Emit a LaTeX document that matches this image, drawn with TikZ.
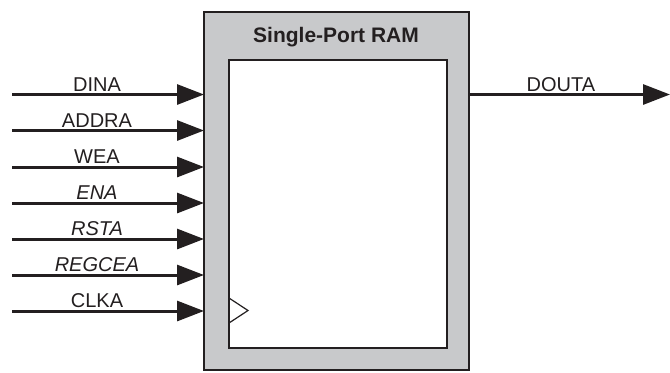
\documentclass[tikz,border=0pt]{standalone}
\usepackage{fontspec}
\setmainfont{Liberation Sans}
\usetikzlibrary{arrows.meta}
\definecolor{ink}{RGB}{35,31,32}
\definecolor{boxgray}{RGB}{200,201,203}
\tikzset{
  sig/.style={draw=ink, line width=1.5pt, -{Triangle[length=13.5pt,width=10pt]}},
  lbl/.style={anchor=base, inner sep=0pt, text=ink, font=\fontsize{10}{12}\selectfont},
  outerbox/.style={draw=ink, line width=1pt, fill=boxgray, inner sep=0pt},
  innerbox/.style={draw=ink, line width=1pt, fill=white, inner sep=0pt},
  clk/.style={draw=ink, line width=0.6pt}
}
\begin{document}
\begin{tikzpicture}[x=0.5pt,y=-0.5pt]
\useasboundingbox (0,0) rectangle (670,372);
% outer and inner boxes
\node[outerbox, minimum width=132.5pt, minimum height=179pt] (ram) at (336.5,190.5) {};
\node[innerbox, minimum width=109pt, minimum height=144pt] (core) at (337.5,203.5) {};
\node[lbl, font=\bfseries\fontsize{10.5}{12}\selectfont] (title) at (336,42) {Single-Port RAM};
% clock triangle
\coordinate (ck1) at (229,298);
\coordinate (ck2) at (248,310.5);
\coordinate (ck3) at (229,323);
\draw[clk] (ck1) -- (ck2) -- (ck3);
% inputs
\foreach \n/\y/\t in {dina/94.5/DINA, addra/130.5/ADDRA, wea/167/WEA, ena/203/\textit{ENA}, rsta/239/\textit{RSTA}, regcea/275/\textit{REGCEA}, clka/311/CLKA}{
  \coordinate (\n-s) at (12,\y);
  \coordinate (\n-e) at (204,\y);
  \draw[sig] (\n-s) -- (\n-e);
  \node[lbl] (\n-l) at (97,\y-3.5) {\t};
}
% output
\coordinate (douta-s) at (470,94.5);
\coordinate (douta-e) at (670,94.5);
\draw[sig] (douta-s) -- (douta-e);
\node[lbl] (douta-l) at (561,91) {DOUTA};
\end{tikzpicture}
\end{document}
